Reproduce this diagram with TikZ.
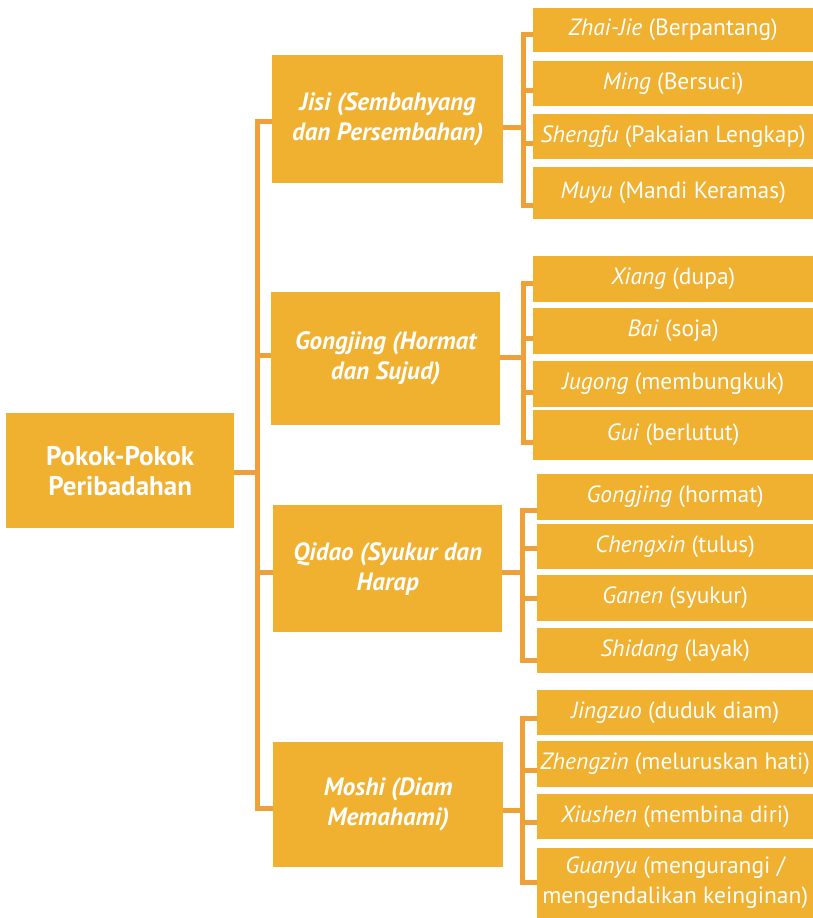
\documentclass[tikz,border=0pt]{standalone}
\usepackage{fontspec}
\setmainfont{PT Sans}
\usetikzlibrary{backgrounds}
\definecolor{boxfill}{RGB}{240,176,48}
\definecolor{linkcol}{RGB}{238,160,58}
% leaf box: name, left x, top y, bottom y, text
\newcommand\leafbox[5]{%
  \pgfmathsetmacro\lbw{813-#2}\pgfmathsetmacro\lbh{#4-#3}%
  \node[box, leaftext, minimum width=\lbw pt, minimum height=\lbh pt] (#1) at (#2,#3) {#5};}
\begin{document}
\begin{tikzpicture}[x=1pt,y=-1pt,
  box/.style={fill=boxfill, text=white, inner sep=0pt, anchor=north west, align=center},
  link/.style={draw=linkcol, line width=5pt, line cap=rect, line join=miter},
  leaftext/.style={font=\fontsize{23.5}{30}\selectfont},
  maintext/.style={font=\fontsize{25}{30}\selectfont\bfseries\itshape},
  roottext/.style={font=\fontsize{27}{30}\selectfont\bfseries},
]
\useasboundingbox (0,0) rectangle (813,918);

% root
\node[box, roottext, minimum width=228pt, minimum height=115pt] (root) at (6,413) {Pokok-Pokok\\Peribadahan};

% main branches
\node[box, maintext, minimum width=231pt, minimum height=128pt] (jisi) at (272,55) {Jisi (Sembahyang\\dan Persembahan)};
\node[box, maintext, minimum width=229pt, minimum height=133pt] (gong) at (271,292) {Gongjing (Hormat\\dan Sujud)};
\node[box, maintext, minimum width=229pt, minimum height=127pt] (qidao) at (273,505) {Qidao (Syukur dan\\Harap};
\node[box, maintext, minimum width=230pt, minimum height=125pt] (moshi) at (273,742) {Moshi (Diam\\Memahami)};

% leaves of Jisi
\leafbox{j1}{533}{8}{52}{\textit{Zhai-Jie} (Berpantang)}
\leafbox{j2}{533}{61}{106}{\textit{Ming} (Bersuci)}
\leafbox{j3}{533}{114}{159}{\textit{Shengfu} (Pakaian Lengkap)}
\leafbox{j4}{533}{167}{219}{\textit{Muyu} (Mandi Keramas)}
% leaves of Gongjing
\leafbox{g1}{533}{256}{302}{\textit{Xiang} (dupa)}
\leafbox{g2}{533}{308}{354}{\textit{Bai} (soja)}
\leafbox{g3}{533}{361}{407}{\textit{Jugong} (membungkuk)}
\leafbox{g4}{533}{410}{460}{\textit{Gui} (berlutut)}
% leaves of Qidao
\leafbox{q1}{537}{474}{520}{\textit{Gongjing} (hormat)}
\leafbox{q2}{537}{524}{569}{\textit{Chengxin} (tulus)}
\leafbox{q3}{537}{575}{621}{\textit{Ganen} (syukur)}
\leafbox{q4}{537}{628}{673}{\textit{Shidang} (layak)}
% leaves of Moshi
\leafbox{m1}{537}{690}{735}{\textit{Jingzuo} (duduk diam)}
\leafbox{m2}{537}{741}{787}{\textit{Zhengzin} (meluruskan hati)}
\leafbox{m3}{537}{794}{839}{\textit{Xiushen} (membina diri)}
\leafbox{m4}{537}{848}{918}{\textit{Guanyu} (mengurangi /\\mengendalikan keinginan)}

\begin{pgfonlayer}{background}
  % trunk from the root to the four branches
  \coordinate (t1) at (257,121);
  \coordinate (t2) at (257,355);
  \coordinate (t3) at (257,572);
  \coordinate (t4) at (257,808);
  \coordinate (t0) at (257,472);
  \draw[link] (t1) -- (t4);
  \draw[link] (root.east |- t0) -- (t0);
  \draw[link] (t1) -- (jisi.west |- t1);
  \draw[link] (t2) -- (gong.west |- t2);
  \draw[link] (t3) -- (qidao.west |- t3);
  \draw[link] (t4) -- (moshi.west |- t4);

  % bracket of Jisi
  \coordinate (jc) at (523,127);
  \draw[link] (jisi.east |- jc) -- (jc);
  \coordinate (ja) at (523,34); \coordinate (jb) at (523,90);
  \coordinate (jd) at (523,143); \coordinate (je) at (523,205);
  \draw[link] (ja) -- (je);
  \draw[link] (ja) -- (j1.west |- ja);
  \draw[link] (jb) -- (j2.west |- jb);
  \draw[link] (jd) -- (j3.west |- jd);
  \draw[link] (je) -- (j4.west |- je);

  % bracket of Gongjing
  \coordinate (gc) at (523,357);
  \draw[link] (gong.east |- gc) -- (gc);
  \coordinate (ga) at (523,283); \coordinate (gb) at (523,338);
  \coordinate (gd) at (523,392); \coordinate (ge) at (523,442);
  \draw[link] (ga) -- (ge);
  \draw[link] (ga) -- (g1.west |- ga);
  \draw[link] (gb) -- (g2.west |- gb);
  \draw[link] (gd) -- (g3.west |- gd);
  \draw[link] (ge) -- (g4.west |- ge);

  % bracket of Qidao
  \coordinate (qc) at (522,572);
  \draw[link] (qidao.east |- qc) -- (qc);
  \coordinate (qa) at (522,510); \coordinate (qb) at (522,548);
  \coordinate (qd) at (522,598); \coordinate (qe) at (522,660);
  \draw[link] (qa) -- (qe);
  \draw[link] (qa) -- (q1.west |- qa);
  \draw[link] (qb) -- (q2.west |- qb);
  \draw[link] (qd) -- (q3.west |- qd);
  \draw[link] (qe) -- (q4.west |- qe);

  % bracket of Moshi
  \coordinate (mc) at (522,810);
  \draw[link] (moshi.east |- mc) -- (mc);
  \coordinate (ma) at (522,718); \coordinate (mb) at (522,770);
  \coordinate (md) at (522,822); \coordinate (me) at (522,882);
  \draw[link] (ma) -- (me);
  \draw[link] (ma) -- (m1.west |- ma);
  \draw[link] (mb) -- (m2.west |- mb);
  \draw[link] (md) -- (m3.west |- md);
  \draw[link] (me) -- (m4.west |- me);
\end{pgfonlayer}
\end{tikzpicture}
\end{document}
